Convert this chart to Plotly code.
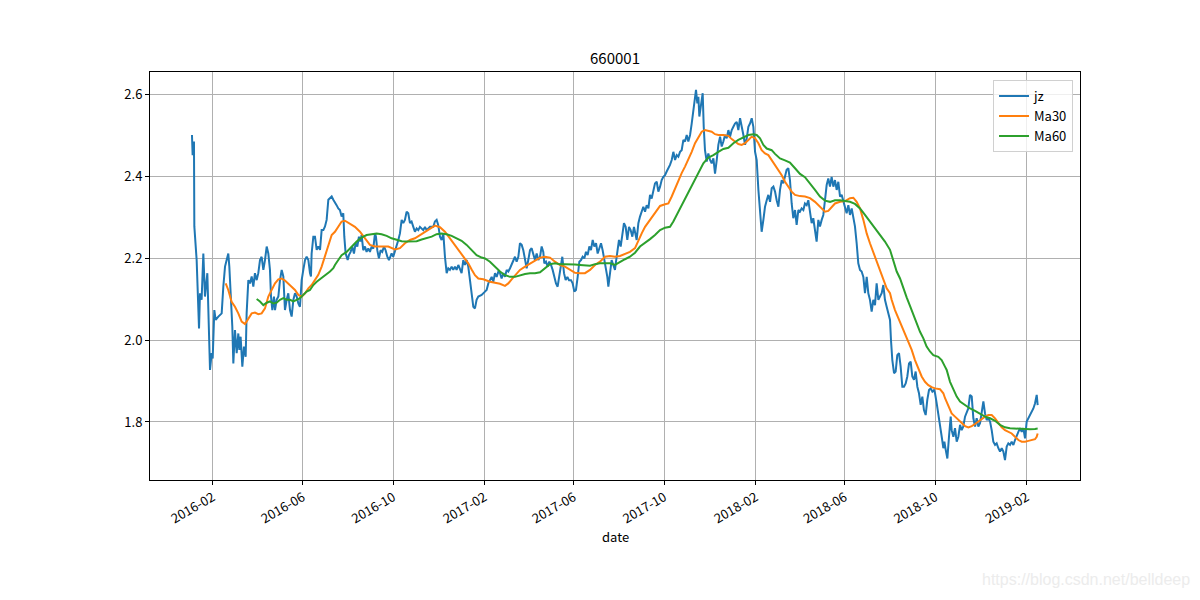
import pandas as pd
import plotly.graph_objects as go

BASE_DATE = "2016-01-04"

# ---- jz (net value) : days since BASE_DATE, value ----
jz_days = [
    0.0, 0.9, 2.7, 3.2, 6.3, 7.7, 9.5, 10.8, 13.0, 15.3,
    17.5, 20.7, 22.9, 24.3, 26.5, 27.9, 30.1, 31.9, 35.5, 40.0,
    42.2, 44.5, 46.7, 48.9, 50.3, 52.1, 54.3, 55.7, 57.9, 60.2,
    62.4, 63.8, 65.5, 67.8, 70.0, 72.3, 73.6, 75.9, 78.1, 80.4,
    82.6, 84.8, 87.1, 89.3, 91.6, 93.8, 96.1, 98.3, 100.6, 102.8,
    105.0, 106.4, 108.2, 110.4, 111.8, 114.0, 116.3, 118.5, 120.8, 123.0,
    125.2, 127.5, 129.7, 132.0, 134.2, 136.5, 138.7, 141.0, 143.2, 145.4,
    147.7, 149.9, 152.2, 154.4, 156.7, 158.9, 160.2, 161.1, 163.4, 165.6,
    167.9, 170.1, 172.4, 174.6, 176.9, 179.1, 181.3, 183.6, 185.8, 188.1,
    190.3, 192.6,
    194.7, 197.0, 199.2, 201.5, 203.7, 205.1, 206.9, 209.6, 211.3, 213.6,
    215.8, 218.1, 220.3, 222.6, 224.8, 226.6, 228.4, 230.6, 232.9, 235.1,
    237.4, 239.6, 241.9, 244.1, 246.4, 247.7, 249.5, 251.7, 254.0, 256.2,
    258.5, 260.7, 263.0, 265.2, 266.6, 268.8, 271.0, 273.3, 275.5, 277.8,
    280.0, 282.3, 284.5, 286.7, 289.0, 291.2, 293.5, 295.7, 298.0, 300.2,
    302.5, 304.7, 306.9, 309.2, 311.4, 313.7, 315.9, 318.2, 320.4, 322.7,
    324.9, 327.1, 329.4, 331.6, 333.9, 336.1, 338.4, 340.6, 342.9, 345.1,
    347.3, 349.6, 351.8, 354.1, 356.3, 358.6, 360.8, 363.0, 365.3, 367.5,
    369.8, 372.0, 374.3, 376.5, 378.8, 381.0, 383.2, 385.5, 390.0, 394.5,
    396.7, 399.0, 401.2, 403.5, 405.7, 408.0, 410.2, 412.5, 414.7, 416.9,
    419.2, 421.4, 423.7, 425.9, 428.2, 430.4, 432.6, 434.9, 437.1, 439.4,
    441.6, 443.9, 446.1, 448.4, 450.6, 452.8, 455.1, 457.3, 459.6, 461.8,
    464.1, 466.3, 468.6, 470.8, 473.0, 474.4, 476.6, 478.9, 481.1, 483.4,
    485.6, 487.9, 490.1, 492.3, 494.6, 496.8, 498.6, 500.9, 503.1, 505.4,
    507.6, 510.3, 512.5, 514.8, 517.0, 519.3, 521.5, 523.8, 526.0, 528.2,
    530.5, 532.7, 535.0, 537.2, 539.5, 541.7, 544.0, 546.2, 548.4, 550.7,
    552.9, 555.2, 557.0, 559.2, 560.6, 562.8, 565.0, 567.3, 569.5, 570.9,
    572.7, 574.9, 577.2, 579.4, 581.6, 583.9, 586.1, 588.4, 590.6, 592.9,
    595.1,
    598.7, 601.0, 603.2, 605.5, 607.7, 610.0, 612.2, 614.5, 616.7, 618.9,
    621.2, 623.4, 625.7, 627.9, 630.2, 632.4, 634.6, 636.9, 639.1, 641.4,
    643.6, 645.9, 648.1, 650.4, 652.6, 654.8, 657.1, 659.3, 661.6, 663.8,
    666.1, 668.3, 670.6, 672.8, 675.0, 677.3, 678.6, 680.4, 681.8, 683.1,
    684.9, 686.3, 687.6, 689.0, 690.7, 693.0, 695.2, 697.5, 699.7, 702.0,
    704.2, 706.5, 708.7, 711.0, 713.2, 715.4, 717.7, 719.9, 722.2, 724.4,
    726.7, 728.9, 731.1, 733.4, 735.6, 737.9, 740.1, 742.4, 744.6, 746.9,
    749.1, 751.3, 753.6, 755.8, 758.1, 760.3, 762.6, 764.8, 767.0, 769.3,
    771.5, 773.8, 776.0, 778.3, 780.5, 782.8, 785.0, 787.2, 789.5, 791.7,
    794.0, 796.2, 798.5,
    800.6, 802.9, 805.1, 807.4, 809.6, 811.9, 814.1, 816.4, 818.6, 820.8,
    823.1, 825.3, 827.6, 829.8, 832.1, 834.3, 836.5, 838.8, 841.0, 843.3,
    845.5, 847.8, 850.0, 852.3, 854.5, 856.7, 859.0, 861.2, 863.5, 865.7,
    868.0, 870.2, 872.5, 874.7, 876.9, 879.2, 881.4, 883.7, 885.9, 888.2,
    890.4, 892.6, 894.9, 897.1, 899.4, 901.6, 903.9, 906.1, 908.4, 910.6,
    912.8, 915.1, 917.3, 919.6, 921.8, 924.1, 926.3, 928.6, 930.8, 933.0,
    935.3, 937.5, 939.8,
    941.1, 942.9, 945.2, 947.4, 949.6, 951.9, 954.1, 956.4, 958.6, 960.9,
    963.1, 965.4, 967.6, 969.8, 972.1, 974.3, 976.6, 978.8, 981.1, 983.3,
    985.5, 987.8, 990.0, 992.3, 994.5, 996.8, 999.0, 1000.4,
    1002.6, 1004.9, 1007.1, 1009.4, 1011.6, 1013.0, 1014.8, 1017.0, 1019.2, 1021.5,
    1022.8, 1025.1, 1027.3, 1029.6, 1031.8, 1034.1, 1036.3, 1038.5, 1040.8, 1043.0,
    1045.2, 1047.5, 1049.8, 1052.0, 1054.3, 1056.5, 1058.7, 1061.0, 1063.2, 1065.5,
    1067.7, 1070.0, 1072.2, 1074.5, 1076.7, 1078.9, 1081.2, 1083.4, 1085.7, 1087.9,
    1090.2, 1092.4, 1094.6, 1096.9, 1099.1, 1101.4, 1103.6, 1105.9, 1108.1, 1110.4,
    1112.6, 1114.8, 1117.1, 1119.3, 1121.6, 1123.8, 1126.1, 1128.3, 1130.6, 1132.8,
    1135.0, 1137.3, 1138.6,
]
jz_values = [
    2.500, 2.451, 2.484, 2.277, 2.195, 2.098, 2.028, 2.114, 2.098, 2.211,
    2.106, 2.163, 1.976, 1.927, 1.968, 1.955, 2.073, 2.049, 2.057, 2.065,
    2.130, 2.179, 2.195, 2.211, 2.179, 2.114, 2.033, 1.943, 2.024, 1.968,
    2.016, 1.976, 2.008, 1.935, 1.984, 1.959, 2.065, 2.146, 2.138, 2.155,
    2.130, 2.163, 2.146, 2.163, 2.195, 2.203, 2.171, 2.195, 2.228, 2.211,
    2.171, 2.106, 2.073, 2.106, 2.073, 2.098, 2.106, 2.146, 2.171, 2.155,
    2.073, 2.098, 2.114, 2.073, 2.057, 2.098, 2.114, 2.106, 2.089, 2.081,
    2.146, 2.171, 2.195, 2.203, 2.195, 2.163, 2.155, 2.211, 2.252, 2.252,
    2.220, 2.228, 2.220, 2.268, 2.268, 2.277, 2.293, 2.342, 2.346, 2.350,
    2.342, 2.333,
    2.329, 2.321, 2.317, 2.301, 2.309, 2.252, 2.211, 2.195, 2.207, 2.215,
    2.228, 2.211, 2.236, 2.228, 2.252, 2.240, 2.256, 2.219, 2.228, 2.215,
    2.223, 2.215, 2.228, 2.223, 2.260, 2.252, 2.219, 2.199, 2.219, 2.215,
    2.228, 2.219, 2.203, 2.195, 2.203, 2.211, 2.203, 2.215, 2.228, 2.244,
    2.260, 2.293, 2.285, 2.293, 2.313, 2.309, 2.285, 2.289, 2.276, 2.264,
    2.272, 2.268, 2.276, 2.272, 2.268, 2.276, 2.268, 2.272, 2.276, 2.276,
    2.276, 2.289, 2.293, 2.280, 2.252, 2.244, 2.260, 2.203, 2.163, 2.175,
    2.171, 2.179, 2.171, 2.179, 2.171, 2.183, 2.175, 2.163, 2.195, 2.183,
    2.195, 2.179, 2.146, 2.110, 2.081, 2.077, 2.098, 2.106, 2.110, 2.118,
    2.122, 2.138, 2.146, 2.154, 2.142, 2.163, 2.154, 2.167, 2.163, 2.150,
    2.163, 2.154, 2.171, 2.167, 2.175, 2.183, 2.195, 2.203, 2.191, 2.203,
    2.236, 2.232, 2.219, 2.199, 2.175, 2.195, 2.219, 2.224, 2.211, 2.195,
    2.211, 2.195, 2.203, 2.228, 2.215, 2.187, 2.191, 2.179, 2.191, 2.183,
    2.171, 2.154, 2.138, 2.130, 2.154, 2.179, 2.203, 2.163, 2.146, 2.154,
    2.146, 2.146, 2.138, 2.118, 2.122, 2.154, 2.191, 2.195, 2.203, 2.199,
    2.215, 2.207, 2.228, 2.219, 2.244, 2.228, 2.236, 2.211, 2.224, 2.236,
    2.219, 2.195, 2.179, 2.154, 2.130, 2.163, 2.195, 2.183, 2.171, 2.191,
    2.219, 2.244, 2.228, 2.252, 2.285, 2.276, 2.244, 2.276, 2.268, 2.252,
    2.276,
    2.244, 2.285, 2.301, 2.317, 2.325, 2.313, 2.329, 2.321, 2.354, 2.345,
    2.366, 2.382, 2.386, 2.362, 2.374, 2.390, 2.398, 2.402, 2.411, 2.419,
    2.427, 2.439, 2.459, 2.439, 2.451, 2.447, 2.459, 2.463, 2.488, 2.484,
    2.500, 2.484, 2.500, 2.528, 2.561, 2.593, 2.610, 2.577, 2.593, 2.545,
    2.573, 2.585, 2.602, 2.520, 2.463, 2.435, 2.455, 2.439, 2.431, 2.443,
    2.406, 2.439, 2.476, 2.496, 2.472, 2.484, 2.500, 2.492, 2.512, 2.496,
    2.512, 2.520, 2.528, 2.532, 2.512, 2.541, 2.524, 2.500, 2.476, 2.492,
    2.520, 2.528, 2.541, 2.520, 2.459, 2.439, 2.366, 2.313, 2.264, 2.293,
    2.325, 2.341, 2.354, 2.337, 2.370, 2.374, 2.362, 2.341, 2.325, 2.366,
    2.390, 2.382, 2.398,
    2.415, 2.419, 2.390, 2.333, 2.297, 2.317, 2.281, 2.317, 2.313, 2.321,
    2.317, 2.333, 2.329, 2.341, 2.317, 2.285, 2.297, 2.268, 2.240, 2.293,
    2.277, 2.293, 2.305, 2.342, 2.378, 2.394, 2.374, 2.398, 2.374, 2.390,
    2.366, 2.386, 2.350, 2.354, 2.337, 2.321, 2.309, 2.329, 2.305, 2.321,
    2.301, 2.277, 2.236, 2.187, 2.171, 2.167, 2.154, 2.114, 2.154, 2.114,
    2.098, 2.069, 2.098, 2.085, 2.138, 2.098, 2.106, 2.114, 2.134, 2.098,
    2.081, 2.061, 2.049,
    2.000, 1.951, 1.919, 1.923, 1.963, 1.968, 1.935, 1.886, 1.886, 1.894,
    1.911, 1.943, 1.947, 1.911, 1.903, 1.923, 1.886, 1.870, 1.842, 1.862,
    1.829, 1.817, 1.854, 1.878, 1.882, 1.874, 1.878, 1.870,
    1.846, 1.821, 1.797, 1.764, 1.736, 1.752, 1.732, 1.711, 1.764, 1.813,
    1.780, 1.764, 1.785, 1.752, 1.764, 1.793, 1.780, 1.789, 1.813, 1.821,
    1.833, 1.866, 1.862, 1.809, 1.789, 1.809, 1.789, 1.797, 1.825, 1.850,
    1.821, 1.805, 1.809, 1.801, 1.780, 1.752, 1.744, 1.748, 1.736, 1.728,
    1.736, 1.728, 1.707, 1.740, 1.748, 1.744, 1.752, 1.744, 1.756, 1.768,
    1.776, 1.785, 1.776, 1.785, 1.760, 1.801, 1.809, 1.817, 1.825, 1.833,
    1.845, 1.866, 1.841,
]

# ---- Ma30 ----
ma30_days = [
    45.4, 48.9, 53.4, 57.9, 62.4, 66.9, 71.4, 75.9, 80.4, 84.8,
    89.3, 93.8, 98.3, 102.8, 107.3, 111.8, 116.3, 120.8, 125.2, 129.7,
    134.2, 138.7, 143.2, 147.7, 152.2, 156.7, 161.1, 165.6, 170.1, 174.6,
    179.1, 183.6, 188.1,
    192.5, 197.0, 201.5, 206.0, 212.7, 219.4, 226.2, 232.9, 239.6, 246.4,
    255.3, 264.3, 273.3, 280.0, 286.7, 293.5, 300.2, 306.9, 313.7, 320.4,
    327.1, 333.9, 340.6, 347.3, 354.1, 360.8, 367.5, 372.0, 376.5, 381.0,
    385.5, 392.2,
    401.2, 408.0, 414.7, 421.4, 425.9, 430.4, 434.9, 441.6, 448.4, 455.1,
    461.8, 468.6, 475.3, 482.0, 488.7, 495.5, 502.2, 508.9, 515.7, 522.4,
    529.1, 535.9, 542.6, 549.3, 556.1, 562.8, 569.5, 576.3, 583.0, 589.7,
    596.5, 601.0, 605.5, 610.0, 616.7, 623.4, 630.2, 636.9, 641.4, 645.9,
    650.4, 654.8, 659.3, 663.8, 668.3, 672.8, 677.3, 681.8, 686.3, 690.7,
    695.2, 699.7, 704.2, 708.7, 715.4, 722.2, 726.7, 731.1, 735.6, 740.1,
    744.6, 749.1, 753.6, 758.1, 762.6, 767.0, 771.5, 776.0, 780.5, 785.0,
    789.5, 794.0,
    798.4, 802.9, 807.4, 811.9, 818.6, 825.3, 832.1, 838.8, 845.5, 852.3,
    856.7, 861.2, 865.7, 872.5, 879.2, 885.9, 890.4, 894.9, 899.4, 903.9,
    908.4, 912.8, 917.3, 921.8, 926.3, 930.8, 935.3, 939.8,
    942.0, 946.5, 951.0, 955.5, 960.0, 964.5, 969.0, 973.4, 977.9, 982.4,
    986.9, 991.4, 995.9,
    1000.4, 1007.1, 1011.6, 1013.9, 1018.4, 1022.8, 1027.3, 1031.8, 1036.3, 1040.8,
    1045.3, 1049.8, 1054.3, 1058.7, 1063.2, 1067.7, 1072.2, 1076.7, 1081.2, 1085.7,
    1090.2, 1094.6, 1099.1, 1103.6, 1108.1, 1112.6, 1117.1, 1121.6, 1126.1, 1130.6,
    1135.0, 1137.3, 1138.6,
]
ma30_values = [
    2.138, 2.122, 2.093, 2.081, 2.065, 2.045, 2.039, 2.053, 2.065, 2.067,
    2.063, 2.065, 2.077, 2.106, 2.122, 2.138, 2.148, 2.150, 2.145, 2.138,
    2.130, 2.122, 2.110, 2.106, 2.114, 2.126, 2.134, 2.146, 2.159, 2.179,
    2.203, 2.228, 2.256,
    2.264, 2.276, 2.289, 2.291, 2.284, 2.276, 2.264, 2.248, 2.232, 2.228,
    2.228, 2.228, 2.221, 2.224, 2.236, 2.244, 2.248, 2.256, 2.264, 2.272,
    2.279, 2.275, 2.264, 2.248, 2.232, 2.215, 2.199, 2.187, 2.172, 2.158,
    2.150, 2.148,
    2.142, 2.140, 2.137, 2.132, 2.138, 2.148, 2.158, 2.171, 2.179, 2.187,
    2.195, 2.201, 2.203, 2.201, 2.191, 2.183, 2.179, 2.171, 2.164, 2.163,
    2.163, 2.171, 2.183, 2.191, 2.203, 2.205, 2.203, 2.205, 2.210, 2.215,
    2.224, 2.244, 2.260, 2.276, 2.293, 2.309, 2.327, 2.331, 2.333, 2.350,
    2.370, 2.390, 2.407, 2.423, 2.439, 2.459, 2.480, 2.496, 2.508, 2.512,
    2.510, 2.508, 2.502, 2.500, 2.500, 2.498, 2.490, 2.484, 2.478, 2.476,
    2.480, 2.488, 2.496, 2.492, 2.480, 2.463, 2.455, 2.451, 2.439, 2.427,
    2.415, 2.402,
    2.386, 2.374, 2.362, 2.354, 2.351, 2.350, 2.346, 2.337, 2.324, 2.313,
    2.315, 2.324, 2.333, 2.337, 2.339, 2.346, 2.347, 2.337, 2.321, 2.293,
    2.260, 2.236, 2.215, 2.191, 2.171, 2.150, 2.126, 2.114,
    2.098, 2.073, 2.053, 2.037, 2.016, 1.996, 1.976, 1.951, 1.931, 1.911,
    1.898, 1.890, 1.885,
    1.882, 1.880, 1.870, 1.858, 1.837, 1.821, 1.813, 1.805, 1.797, 1.790,
    1.787, 1.790, 1.795, 1.801, 1.809, 1.813, 1.817, 1.817, 1.809, 1.797,
    1.787, 1.780, 1.776, 1.772, 1.764, 1.756, 1.752, 1.752, 1.754, 1.756,
    1.758, 1.764, 1.772,
]

# ---- Ma60 ----
ma60_days = [
    87.1, 91.6, 96.1, 100.6, 105.0, 109.5, 114.0, 118.5, 123.0, 127.5,
    132.0, 136.5, 141.0, 145.4, 149.9, 154.4, 158.9, 163.4, 167.9, 172.4,
    176.9, 181.3, 185.8, 190.3,
    192.5, 197.0, 201.5, 208.2, 214.9, 221.7, 228.4, 235.1, 241.9, 248.6,
    255.3, 262.1, 268.8, 275.5, 282.3, 289.0, 295.7, 302.5, 309.2, 315.9,
    322.7, 329.4, 336.1, 342.9, 349.6, 356.3, 363.0, 369.8, 376.5, 383.2,
    390.0,
    394.5, 401.2, 408.0, 414.7, 421.4, 428.2, 434.9, 441.6, 448.4, 455.1,
    461.8, 468.6, 475.3, 482.0, 488.7, 495.5, 502.2, 508.9, 515.7, 522.4,
    529.1, 535.9, 542.6, 549.3, 556.1, 562.8, 569.5, 576.3, 583.0, 589.7,
    596.5, 603.2, 610.0, 616.7, 623.4, 630.2, 636.9, 643.6, 648.1, 654.8,
    661.6, 668.3, 675.0, 681.8, 688.5, 695.2, 702.0, 708.7, 715.4, 722.2,
    728.9, 735.6, 742.4, 749.1, 755.8, 760.3, 764.8, 769.3, 773.8, 780.5,
    785.0, 791.7,
    798.4, 805.1, 811.9, 818.6, 825.3, 832.1, 838.8, 845.5, 852.3, 859.0,
    865.7, 872.5, 879.2, 885.9, 892.6, 899.4, 906.1, 912.8, 919.6, 926.3,
    933.0, 939.8, 944.3, 948.8, 953.3, 957.7, 962.2,
    966.7, 971.2, 975.7, 980.2, 984.7, 989.1, 993.6, 998.1, 1004.8, 1009.3,
    1013.8,
    1016.1, 1020.6, 1025.1, 1029.6, 1034.1, 1040.8, 1047.5, 1054.3, 1061.0, 1067.7,
    1074.5, 1081.2, 1087.9, 1094.6, 1101.4, 1108.1, 1114.8, 1121.6, 1128.3, 1135.0,
    1138.6,
]
ma60_values = [
    2.100, 2.094, 2.085, 2.091, 2.094, 2.089, 2.091, 2.098, 2.102, 2.098,
    2.098, 2.094, 2.098, 2.102, 2.110, 2.118, 2.122, 2.134, 2.142, 2.148,
    2.155, 2.161, 2.167, 2.175,
    2.183, 2.195, 2.207, 2.215, 2.228, 2.240, 2.250, 2.256, 2.258, 2.260,
    2.258, 2.254, 2.248, 2.244, 2.241, 2.240, 2.240, 2.241, 2.245, 2.248,
    2.252, 2.258, 2.260, 2.258, 2.254, 2.248, 2.242, 2.232, 2.219, 2.207,
    2.201,
    2.199, 2.191, 2.179, 2.167, 2.158, 2.154, 2.154, 2.158, 2.161, 2.163,
    2.163, 2.165, 2.175, 2.185, 2.187, 2.185, 2.185, 2.185, 2.184, 2.183,
    2.182, 2.181, 2.185, 2.187, 2.187, 2.187, 2.183, 2.191, 2.197, 2.203,
    2.213, 2.228, 2.236, 2.246, 2.256, 2.268, 2.274, 2.276, 2.289, 2.313,
    2.337, 2.362, 2.386, 2.411, 2.431, 2.445, 2.451, 2.459, 2.466, 2.469,
    2.480, 2.488, 2.494, 2.500, 2.502, 2.500, 2.492, 2.476, 2.467, 2.463,
    2.454, 2.443,
    2.438, 2.433, 2.419, 2.405, 2.397, 2.380, 2.366, 2.350, 2.340, 2.337,
    2.341, 2.341, 2.339, 2.337, 2.332, 2.321, 2.305, 2.289, 2.272, 2.256,
    2.240, 2.220, 2.195, 2.167, 2.150, 2.126, 2.104,
    2.083, 2.061, 2.037, 2.020, 2.004, 1.984, 1.972, 1.963, 1.959, 1.951,
    1.935,
    1.927, 1.898, 1.878, 1.862, 1.850, 1.841, 1.833, 1.827, 1.819, 1.813,
    1.809, 1.803, 1.793, 1.787, 1.785, 1.784, 1.783, 1.782, 1.782, 1.783,
    1.784,
]

x_tick_dates = ["2016-02-01", "2016-06-01", "2016-10-01", "2017-02-01", "2017-06-01",
                "2017-10-01", "2018-02-01", "2018-06-01", "2018-10-01", "2019-02-01"]
y_tick_values = [1.8, 2.0, 2.2, 2.4, 2.6]

series_names = ["jz", "Ma30", "Ma60"]
series_colors = ["#1f77b4", "#ff7f0e", "#2ca02c"]


def to_dates(days):
    return list(pd.Timestamp(BASE_DATE) + pd.to_timedelta(days, unit="D"))


def pair(d, v):
    n = min(len(d), len(v))
    return to_dates(d[:n]), v[:n]


FONT = "Noto Sans CJK SC, SimHei, DejaVu Sans, sans-serif"

fig = go.Figure()
for name, color, (d, v) in zip(series_names, series_colors,
                               [(jz_days, jz_values), (ma30_days, ma30_values),
                                (ma60_days, ma60_values)]):
    xs, ys = pair(d, v)
    fig.add_trace(go.Scatter(x=xs, y=ys, mode="lines", name=name,
                             line=dict(color=color, width=2)))

fig.update_layout(
    width=1200, height=600,
    margin=dict(l=150, r=120, t=72, b=120, pad=0),
    paper_bgcolor="white", plot_bgcolor="white",
    font=dict(family=FONT, size=13, color="black"),
    title=dict(text="660001", x=0.5, xref="paper", y=1 - 59 / 600, yanchor="middle",
               xanchor="center", font=dict(size=15, family=FONT, color="black")),
    showlegend=True,
    legend=dict(x=0.9925, y=0.98, xanchor="right", yanchor="top",
                bgcolor="rgba(255,255,255,0.8)", bordercolor="#d0d0d0", borderwidth=1,
                font=dict(size=13, family=FONT), tracegroupgap=0),
)
fig.update_xaxes(
    type="date",
    range=["2015-11-08 12:00", "2019-04-13 14:00"],
    tickvals=x_tick_dates, tickformat="%Y-%m", tickangle=-30,
    showgrid=True, gridcolor="#b0b0b0", gridwidth=1,
    showline=True, linecolor="black", linewidth=1, mirror=True,
    ticks="outside", ticklen=4, tickcolor="black",
    zeroline=False, tickfont=dict(size=13),
)
fig.update_yaxes(
    range=[1.6585, 2.6537],
    tickvals=y_tick_values, tickformat=".1f",
    showgrid=True, gridcolor="#b0b0b0", gridwidth=1,
    showline=True, linecolor="black", linewidth=1, mirror=True,
    ticks="outside", ticklen=4, tickcolor="black",
    zeroline=False, tickfont=dict(size=13),
)
fig.add_annotation(text="date", xref="paper", yref="paper", x=0.5, y=(480 - 536) / 408,
                   showarrow=False, xanchor="center", yanchor="middle",
                   font=dict(size=13, family=FONT, color="black"))
fig.add_annotation(text="https://blog.csdn.net/belldeep", xref="paper", yref="paper",
                   x=(1192 - 150) / 930, y=(480 - 579) / 408, showarrow=False,
                   xanchor="right", yanchor="middle",
                   font=dict(size=16, family="Liberation Sans, Arial, sans-serif",
                             color="#ececec"))

fig.write_html("out.html")
